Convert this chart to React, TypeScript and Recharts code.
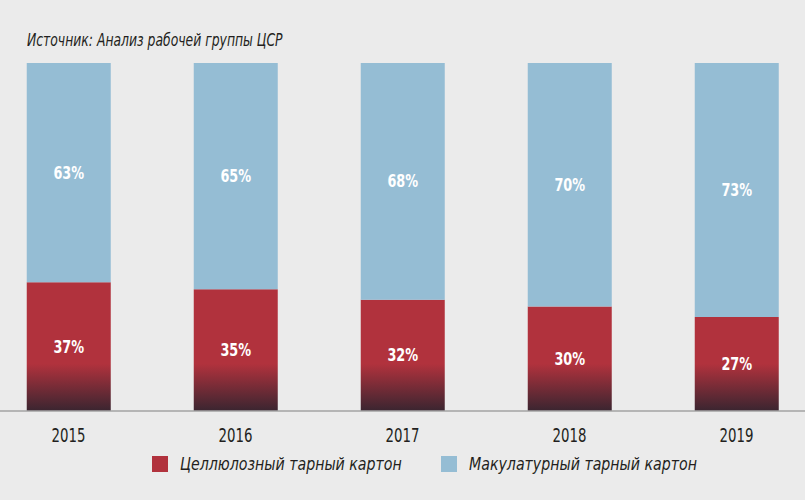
import { BarChart, Bar, XAxis, YAxis, LabelList } from "recharts";

const YEARS = ["2015", "2016", "2017", "2018", "2019"];
const PULP = [37, 35, 32, 30, 27];
const RECYCLED = [63, 65, 68, 70, 73];

const PULP_NAME = "Целлюлозный тарный картон";
const RECYCLED_NAME = "Макулатурный тарный картон";
const SOURCE = "Источник: Анализ рабочей группы ЦСР";

// no narrow font installed, so condensed DejaVu gets squeezed a bit more
const FONT = "'DejaVu Sans Condensed', 'DejaVu Sans', sans-serif";
const RED = "#b1323d";
const BLUE = "#95bdd4";
const BG = "#ebebeb";
const INK = "#231f20";

const chartData = YEARS.map((year, i) => ({ year, pulp: PULP[i], recycled: RECYCLED[i] }));

const legendItems = [
	{ name: PULP_NAME, color: RED, left: 152 },
	{ name: RECYCLED_NAME, color: BLUE, left: 441 },
];

function YearTick(props: any) {
	const { x, y, payload } = props;
	return (
		<text
			transform={`translate(${x},${y + 16}) scale(0.78,1)`}
			textAnchor="middle"
			dominantBaseline="central"
			fontSize={19}
			fontFamily={FONT}
			fill={INK}
		>
			{payload.value}
		</text>
	);
}

function PctLabel(props: any) {
	const { x, y, width, height, value } = props;
	return (
		<text
			transform={`translate(${x + width / 2},${y + height / 2}) scale(0.84,1)`}
			textAnchor="middle"
			dominantBaseline="central"
			fontSize={17}
			fontWeight={700}
			fontFamily={FONT}
			fill="#ffffff"
		>
			{`${value}%`}
		</text>
	);
}

export default function App() {
	return (
		<div
			style={{
				position: "absolute",
				left: 0,
				top: 0,
				width: 805,
				height: 500,
				overflow: "hidden",
				background: BG,
				fontFamily: FONT,
			}}
		>
			<div
				style={{
					position: "absolute",
					left: 27,
					top: 30,
					fontSize: 17,
					fontStyle: "italic",
					color: INK,
					transform: "scaleX(0.81)",
					transformOrigin: "left center",
					whiteSpace: "nowrap",
				}}
			>
				{SOURCE}
			</div>
			<div style={{ position: "absolute", left: -15, top: 0 }}>
				<BarChart
					width={835}
					height={500}
					data={chartData}
					barCategoryGap="25%"
					margin={{ top: 63, right: 0, left: 0, bottom: 59 }}
				>
					<defs>
						<linearGradient id="redShade" gradientUnits="userSpaceOnUse" x1="0" y1="364" x2="0" y2="411">
							<stop offset="0" stopColor={RED} />
							<stop offset="1" stopColor="#3a2530" />
						</linearGradient>
					</defs>
					<XAxis
						dataKey="year"
						height={30}
						tickLine={false}
						axisLine={{ stroke: "#a3a3a3", strokeWidth: 1.5 }}
						tick={<YearTick />}
					/>
					<YAxis hide domain={[0, 100]} />
					<Bar dataKey="pulp" stackId="s" fill="url(#redShade)" isAnimationActive={false}>
						<LabelList dataKey="pulp" content={<PctLabel />} />
					</Bar>
					<Bar dataKey="recycled" stackId="s" fill={BLUE} isAnimationActive={false}>
						<LabelList dataKey="recycled" content={<PctLabel />} />
					</Bar>
				</BarChart>
			</div>
			{legendItems.map((item) => (
				<div
					key={item.name}
					style={{
						position: "absolute",
						left: item.left,
						top: 453,
						display: "flex",
						alignItems: "center",
						fontSize: 18,
						fontStyle: "italic",
						color: INK,
						whiteSpace: "nowrap",
					}}
				>
					<span style={{ width: 16, height: 16, background: item.color, marginRight: 12, display: "inline-block" }} />
					<span style={{ display: "inline-block", transform: "scaleX(0.875)", transformOrigin: "left center" }}>
						{item.name}
					</span>
				</div>
			))}
		</div>
	);
}
